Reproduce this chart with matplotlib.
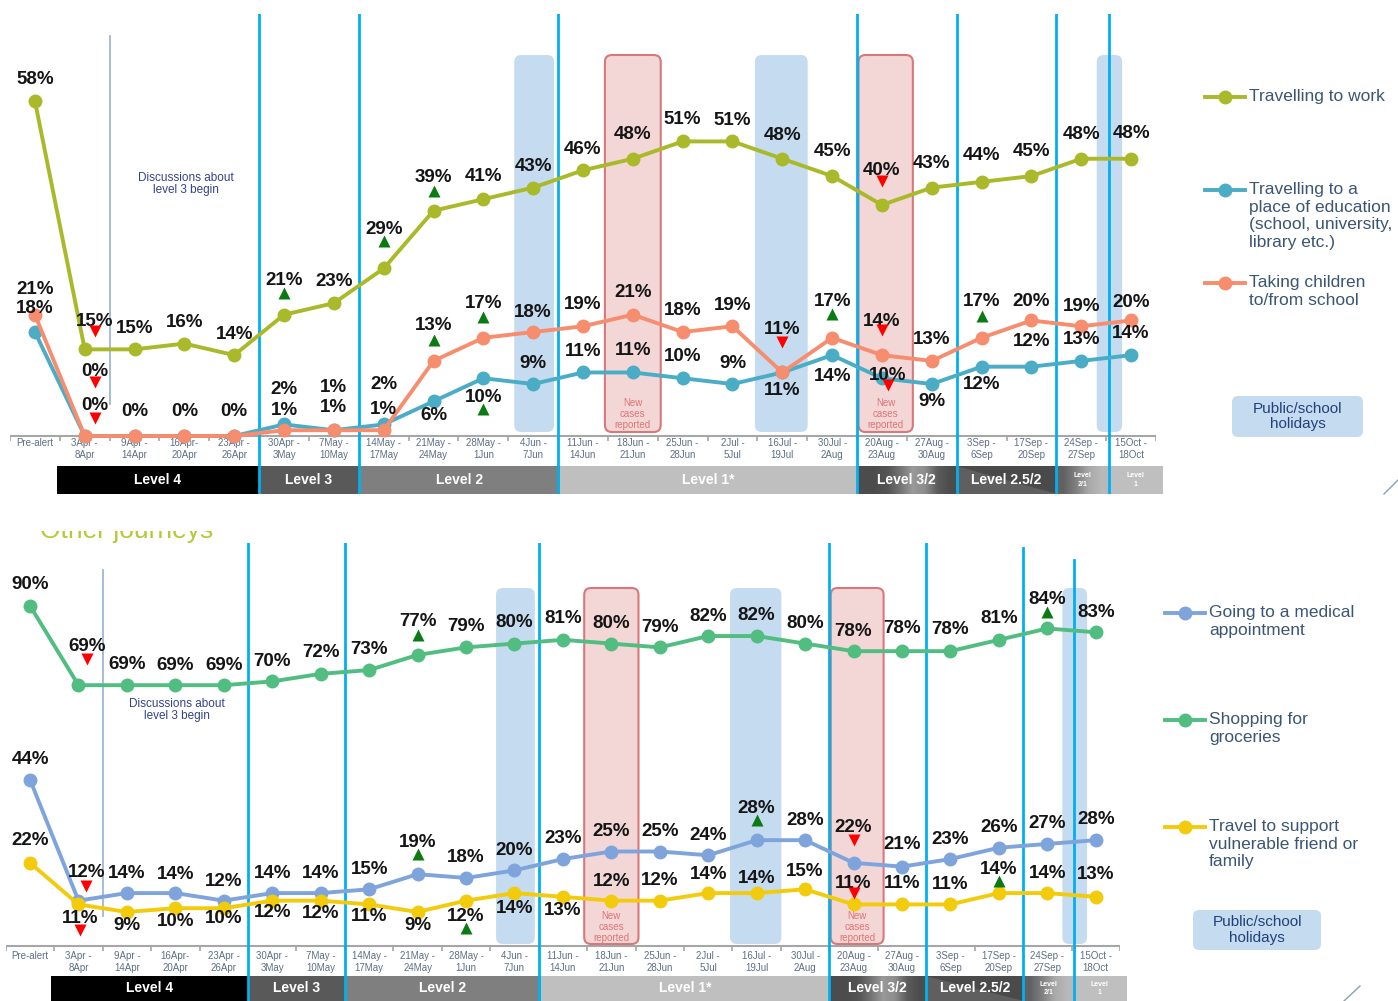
import matplotlib.pyplot as plt
import numpy as np
from matplotlib.patches import FancyBboxPatch, Rectangle, Polygon
from matplotlib.transforms import offset_copy

plt.rcParams['font.family'] = ['Liberation Sans', 'DejaVu Sans']

periods = ['Pre-alert', '3Apr -\n8Apr', '9Apr -\n14Apr', '16Apr-\n20Apr', '23Apr -\n26Apr',
           '30Apr -\n3May', '7May -\n10May', '14May -\n17May', '21May -\n24May', '28May -\n1Jun',
           '4Jun -\n7Jun', '11Jun -\n14Jun', '18Jun -\n21Jun', '25Jun -\n28Jun', '2Jul -\n5Jul',
           '16Jul -\n19Jul', '30Jul -\n2Aug', '20Aug -\n23Aug', '27Aug -\n30Aug', '3Sep -\n6Sep',
           '17Sep -\n20Sep', '24Sep -\n27Sep', '15Oct -\n18Oct']

# top panel (%)
work = [58, 15, 15, 16, 14, 21, 23, 29, 39, 41, 43, 46, 48, 51, 51, 48, 45, 40, 43, 44, 45, 48, 48]
education = [18, 0, 0, 0, 0, 2, 1, 2, 6, 10, 9, 11, 11, 10, 9, 11, 14, 10, 9, 12, 12, 13, 14]
children = [21, 0, 0, 0, 0, 1, 1, 1, 13, 17, 18, 19, 21, 18, 19, 11, 17, 14, 13, 17, 20, 19, 20]

# bottom panel (%)
medical = [44, 12, 14, 14, 12, 14, 14, 15, 19, 18, 20, 23, 25, 25, 24, 28, 28, 22, 21, 23, 26, 27, 28]
groceries = [90, 69, 69, 69, 69, 70, 72, 73, 77, 79, 80, 81, 80, 79, 82, 82, 80, 78, 78, 78, 81, 84, 83]
support = [22, 11, 9, 10, 10, 12, 12, 11, 9, 12, 14, 13, 12, 12, 14, 14, 15, 11, 11, 11, 14, 14, 13]

# label offsets in pixels (positive = above the point, None = no label)
work_lab = [21, 28, 21, 21, 21, 34, 22, 39, 33, 23, 21, 21, 24, 22, 21, 23, 25, 34, 24, 26, 25, 24, 25]
education_lab = [24, 65, None, None, None, 35, 43, 40, -14, -19, 21, 21, 22, 22, 21, -18, -21, 3, -17, -18, 25, 21, 22]
children_lab = [25, 30, 24, 24, 24, 20, 23, 21, 35, 34, 20, 22, 22, 22, 21, 43, 36, 34, 21, 36, 19, 20, 18]
groceries_lab = [21, 39, 21, 20, 20, 20, 21, 21, 33, 21, 21, 21, 20, 20, 20, 21, 20, 20, 23, 22, 21, 29, 20]
medical_lab = [20, 28, 20, 19, 19, 20, 20, 20, 32, 20, 20, 21, 20, 20, 20, 32, 20, 35, 22, 20, 20, 20, 21]
support_lab = [22, -14, -14, -13, -10, -12, -13, -12, -14, -16, -15, -14, 19, 20, 19, 15, 18, 21, 21, 20, 24, 20, 22]
work_dx = {1: 10}
education_dx = {1: 10, 17: 6}
children_dx = {1: 10}
groceries_dx = {1: 9}
medical_dx = {1: 8}
support_dx = {1: 2}

# significant change arrows: index -> (direction, offset px)
work_tri = {1: (-1, 18), 5: (1, 22), 7: (1, 27), 8: (1, 20), 17: (-1, 24)}
education_tri = {1: (-1, 54), 9: (1, -31), 17: (-1, -7)}
children_tri = {1: (-1, 18), 8: (1, 21), 9: (1, 21), 15: (-1, 30), 16: (1, 24), 17: (-1, 25), 19: (1, 22)}
groceries_tri = {1: (-1, 26), 8: (1, 20), 21: (1, 16)}
medical_tri = {1: (-1, 15), 8: (1, 20), 15: (1, 20), 17: (-1, 23)}
support_tri = {1: (-1, -26), 9: (1, -27), 17: (-1, 11), 20: (1, 12)}

levels = ['Level 4', 'Level 3', 'Level 2', 'Level 1*', 'Level 3/2', 'Level 2.5/2', 'Level\n2/1', 'Level\n1']
level_edges = [0.44, 4.5, 6.5, 10.54, 16.5, 18.48, 20.52, 21.53, 22.64]
level_changes = [4.5, 6.5, 10.5, 16.5, 18.5, 20.5, 21.55]
holidays = [(9.62, 10.42), (14.45, 15.51), (21.31, 21.82)]
new_cases = [(11.44, 12.56), (16.53, 17.62)]

fig = plt.figure(figsize=(13.98, 10.01), dpi=100)
W, H = 1398, 1001


def panel(left, right, top, bottom, zero, ppu, series, bar_top, tick_top, box_top, box_bot,
          thin, line_tops, note_y, cases_y):
    ax = fig.add_axes([left / W, 1 - bottom / H, (right - left) / W, (bottom - top) / H])
    xpx = (right - left) / 23

    def y(p):
        return (zero - p) / ppu

    x = np.arange(len(periods))

    # shaded periods
    for a, b in holidays:
        ax.add_patch(FancyBboxPatch((a, y(box_bot)), b - a, y(box_top) - y(box_bot),
                                    boxstyle='round,pad=0,rounding_size=0.14',
                                    mutation_aspect=xpx / ppu, fc='#c5dcf0', ec='none', zorder=1))
    for a, b in new_cases:
        ax.add_patch(FancyBboxPatch((a, y(box_bot)), b - a, y(box_top) - y(box_bot),
                                    boxstyle='round,pad=0,rounding_size=0.14',
                                    mutation_aspect=xpx / ppu, fc='#f3d7d7', ec='#d9787a',
                                    lw=1.5, zorder=1))
        ax.text((a + b) / 2, y(cases_y), 'New\ncases\nreported', ha='center', va='center',
                fontsize=7, color='#e27373', linespacing=1.15, zorder=2)

    # level bar
    yb, yt = y(bottom), y(bar_top)
    fills = ['#000000', '#595959', '#7f7f7f', '#bfbfbf', None, '#5f5f5f', None, '#bfbfbf']
    for i, name in enumerate(levels):
        a, b = level_edges[i], level_edges[i + 1]
        if fills[i] is not None:
            ax.add_patch(Rectangle((a, yb), b - a, yt - yb, fc=fills[i], ec='none',
                                   zorder=1.5, clip_on=False))
        if name == 'Level 3/2':
            ax.imshow([[0.3, 0.3, 0.33, 0.45, 0.6, 0.55, 0.36, 0.3]], cmap='gray', vmin=0, vmax=1,
                      extent=(a, b, yb, yt), aspect='auto', interpolation='bilinear', zorder=1.5)
        if name == 'Level 2.5/2':
            ax.add_patch(Polygon([(a, yt), (b, yt), (b, yb)], closed=True, fc='#4a4a4a',
                                 ec='none', zorder=1.6))
        if name == 'Level\n2/1':
            ax.imshow([[0.38, 0.5, 0.66, 0.72]], cmap='gray', vmin=0, vmax=1,
                      extent=(a, b, yb, yt), aspect='auto', interpolation='bilinear', zorder=1.5)
        small = '\n' in name
        ax.text((a + b) / 2, (yb + yt) / 2, name, ha='center', va='center', color='white',
                fontsize=5 if small else 10, fontweight='bold', linespacing=1.3, zorder=2,
                clip_on=False)

    # level change lines
    for xv, t in zip(level_changes, line_tops):
        ax.axvline(xv, ymin=0, ymax=t, color='#00b0f0', lw=2, zorder=3)
    ax.plot([1.5, 1.5], [y(thin[0]), y(thin[1])], color='#9db8d2', lw=1.3, zorder=2)
    ax.text(3.03, y(note_y), 'Discussions about\nlevel 3 begin', ha='center', va='center',
            fontsize=8.5, color='#34428a', linespacing=1.1, zorder=2)

    # base axis
    ax.plot([-0.5, 22.5], [0, 0], color='#a6a6a6', lw=1.5, zorder=2)
    ax.vlines(np.arange(-0.5, 23, 1), y(zero + 5), 0, color='#a6a6a6', lw=1.2, zorder=2)
    for i, lab in enumerate(periods):
        ax.text(i, y(tick_top), lab, ha='center', va='top', fontsize=7, color='#5d6f86',
                linespacing=1.2, zorder=2)

    # series
    for vals, color, labs, dxs, tris in series:
        ax.plot(x, vals, '-o', color=color, lw=2.8, ms=9, zorder=4)
        for i, v in enumerate(vals):
            dx = dxs.get(i, 0)
            if labs[i] is not None:
                ax.annotate(f'{v}%', (i, v), xytext=(dx, labs[i]), textcoords='offset pixels',
                            ha='center', va='center', fontsize=13.5, fontweight='bold',
                            color='#151515', zorder=6)
            if i in tris:
                d, off = tris[i]
                tr = offset_copy(ax.transData, fig=fig, x=dx, y=off, units='dots')
                ax.plot(i, v, marker='^' if d > 0 else 'v', ms=8, mec='none',
                        color='#0b7a12' if d > 0 else '#ff0000', transform=tr, zorder=6)

    ax.set_xlim(-0.5, 22.5)
    ax.set_ylim(y(bottom), y(top))
    ax.axis('off')
    return ax


panel(10, 1156, 14, 494, 436, 5.776,
      [(work, '#a9b929', work_lab, work_dx, work_tri),
       (education, '#4bacc6', education_lab, education_dx, education_tri),
       (children, '#f68d6e', children_lab, children_dx, children_tri)],
      bar_top=466, tick_top=438.5, box_top=55, box_bot=432, thin=(36, 404),
      line_tops=[1, 1, 1, 1, 1, 1, 1], note_y=184, cases_y=414)

panel(5.8, 1120, 543, 1001, 946, 3.78,
      [(groceries, '#52bd80', groceries_lab, groceries_dx, groceries_tri),
       (medical, '#7fa4dc', medical_lab, medical_dx, medical_tri),
       (support, '#f2cb0c', support_lab, support_dx, support_tri)],
      bar_top=976, tick_top=951, box_top=588, box_bot=944, thin=(570, 916),
      line_tops=[1, 1, 1, 1, 1, 0.989, 0.963], note_y=710, cases_y=927)

# overlay in pixel coordinates for legends and page elements
ov = fig.add_axes([0, 0, 1, 1])
ov.set_xlim(0, W)
ov.set_ylim(H, 0)
ov.axis('off')


def legend_entry(x0, yc, color, text):
    ov.plot([x0, x0 + 40], [yc, yc], color=color, lw=2.8)
    ov.plot(x0 + 20, yc, 'o', color=color, ms=9)
    ov.text(x0 + 44, yc - 8, text, ha='left', va='top', fontsize=12.5, color='#3b5673',
            linespacing=1.22)


legend_entry(1205, 97, '#a9b929', 'Travelling to work')
legend_entry(1205, 190, '#4bacc6', 'Travelling to a\nplace of education\n(school, university,\nlibrary etc.)')
legend_entry(1205, 283, '#f68d6e', 'Taking children\nto/from school')
legend_entry(1165, 613, '#7fa4dc', 'Going to a medical\nappointment')
legend_entry(1165, 720, '#52bd80', 'Shopping for\ngroceries')
legend_entry(1165, 827, '#f2cb0c', 'Travel to support\nvulnerable friend or\nfamily')

for bx, by, bw, bh in [(1232, 396, 131, 41), (1193, 910, 128, 40)]:
    ov.add_patch(FancyBboxPatch((bx, by), bw, bh, boxstyle='round,pad=0,rounding_size=6',
                                fc='#c5dcf0', ec='none'))
    ov.text(bx + bw / 2, by + bh / 2, 'Public/school\nholidays', ha='center', va='center',
            fontsize=11, color='#22407a', linespacing=1.1)

ov.plot([1384, 1398], [494, 480], color='#8aa0b8', lw=1)
ov.plot([1344, 1360], [1001, 986], color='#8aa0b8', lw=1)

# cut-off section title
ov.text(40, 538, 'Other journeys', ha='left', va='baseline', fontsize=19, color='#b5c935')
ov.add_patch(Rectangle((0, 497), 330, 34, fc='white', ec='none', zorder=10))

fig.savefig('out.png', dpi=100)
